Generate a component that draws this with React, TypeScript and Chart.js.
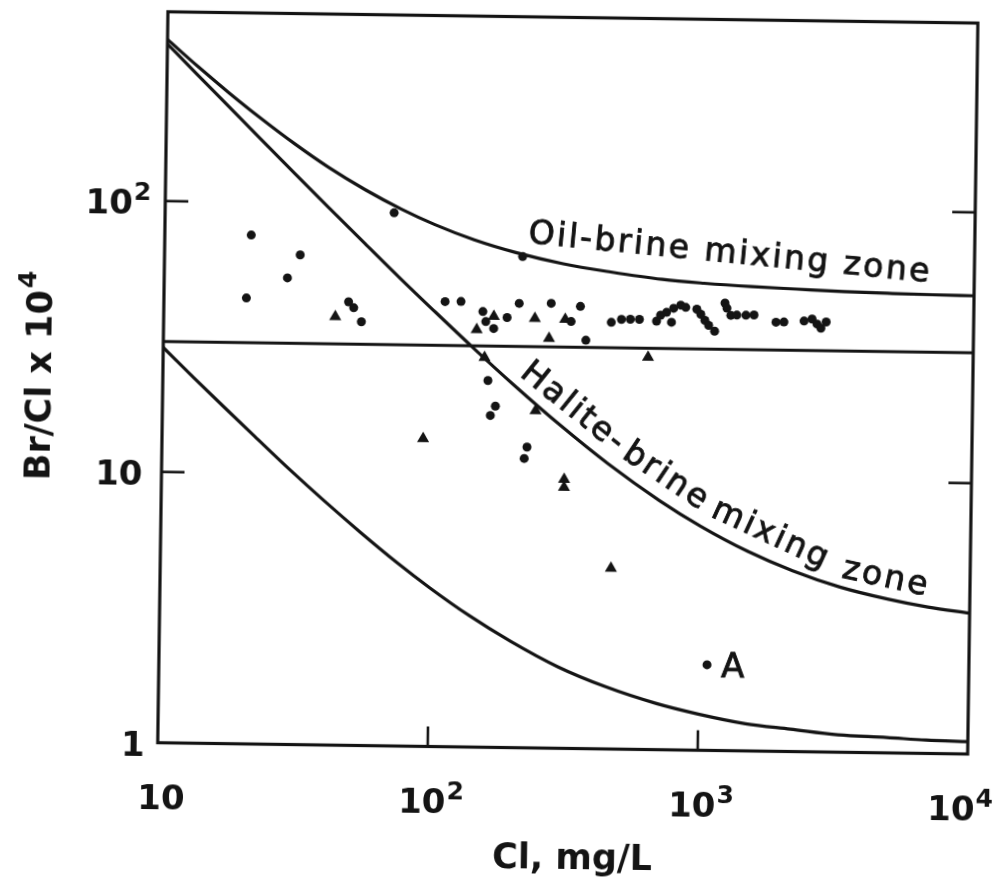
import React, { useEffect, useRef } from "react";
import { Chart, registerables } from "chart.js";

Chart.register(...registerables);

// ---------- data ----------
const clGrid = [10, 13, 17, 22, 30, 40, 55, 75, 100, 140, 200, 300, 450, 700, 1000, 1500, 2200, 3300, 5000, 7000, 10000];
const oilBrineCurve = [395, 315, 253, 207, 165, 136, 112.7, 96, 84.5, 74.6, 67.3, 61.5, 57.7, 54.5, 53.0, 51.8, 51.0, 50.2, 49.7, 49.4, 49.2];
const haliteBrineCurve = [380, 293, 225, 174.5, 128.7, 97.3, 71.6, 53.2, 40.7, 29.9, 21.8, 15.5, 11.3, 8.32, 6.71, 5.45, 4.65, 4.07, 3.69, 3.47, 3.31];
const dilutionCurve = [28.8, 22.4, 17.4, 13.7, 10.3, 8.0, 6.12, 4.77, 3.85, 3.06, 2.47, 2.0, 1.7, 1.48, 1.36, 1.26, 1.21, 1.16, 1.14, 1.12, 1.11];

const seawaterLineCl = [10, 10000];
const seawaterLineRatio = [30.3, 30.3];

const circleCl = [20.9, 31.8, 28.6, 20.2, 48.3, 50.5, 54.0, 70.5, 110, 126, 152, 156, 167, 187, 207, 212, 272, 323, 349, 367, 455, 496, 535, 578, 669, 692, 728, 773, 821, 857, 760, 942, 975, 1010, 1044, 1099, 1197, 1218, 1260, 1326, 1433, 1535, 1853, 1983, 2354, 2520, 2630, 2720, 2843, 160, 171, 164, 225, 220];
const circleRatio = [75.7, 64.3, 52.8, 44.3, 43.4, 41.3, 36.7, 93.0, 44.0, 44.1, 40.6, 37.3, 35.2, 38.7, 43.7, 65.1, 43.9, 37.7, 42.9, 32.2, 37.6, 38.6, 38.7, 38.7, 38.2, 40.2, 41.2, 42.7, 43.9, 43.1, 37.9, 42.5, 40.7, 38.7, 37.1, 35.3, 44.9, 43.0, 40.5, 40.6, 40.6, 40.7, 38.4, 38.5, 38.9, 39.6, 38.0, 36.7, 38.7, 22.6, 18.2, 16.8, 12.9, 11.7];

const triangleCl = [43.2, 167, 144.5, 237, 307, 268, 625, 155, 241, 92.7, 310, 310, 467];
const triangleRatio = [38.2, 39.0, 34.8, 38.5, 38.4, 32.6, 28.1, 27.5, 17.6, 13.7, 9.85, 9.2, 4.65];

const pointACl = [1072];
const pointARatio = [2.07];
const pointALabel = "A";

// axis ticks
const xTickValues = [10, 100, 1000, 10000];
const xTickBase = ["10", "10", "10", "10"];
const xTickExp = ["", "2", "3", "4"];
const yTickValues = [1, 10, 100];
const yTickBase = ["1", "10", "10"];
const yTickExp = ["", "", "2"];
const xInnerTicks = [100, 1000];
const yInnerTicks = [10, 100];

const xTitle = "Cl, mg/L";
const yTitleBase = "Br/Cl x 10";
const yTitleExp = "4";

// curve labels (anchored in data coordinates)
const curveLabelText = ["Oil-brine mixing zone", "Halite-", "brine", "mixing", "zone"];
const curveLabelCl = [221, 208, 502, 1078, 3323];
const curveLabelRatio = [73.3, 23.7, 11.97, 7.32, 4.43];
const curveLabelAngle = [4.8, 38, 33, 24, 11.5];

// ---------- styles ----------
const INK = "#141414";
const FONT = "'DejaVu Sans', 'Liberation Sans', Arial, sans-serif";

function pts(xs: number[], ys: number[]) {
  return xs.map((x, i) => ({ x, y: ys[i] }));
}

const decorPlugin = {
  id: "figureDecor",
  afterDatasetsDraw(chart: any) {
    const { ctx, chartArea: a, scales } = chart;
    const xs = scales.x;
    const ys = scales.y;
    ctx.save();
    ctx.strokeStyle = INK;
    ctx.fillStyle = INK;
    ctx.lineCap = "butt";

    // frame
    ctx.lineWidth = 3.2;
    ctx.strokeRect(a.left, a.top, a.right - a.left, a.bottom - a.top);

    // inner ticks
    const TICK = 23;
    ctx.lineWidth = 2.6;
    const seg = (x1: number, y1: number, x2: number, y2: number) => {
      ctx.beginPath();
      ctx.moveTo(x1, y1);
      ctx.lineTo(x2, y2);
      ctx.stroke();
    };
    yInnerTicks.forEach((v) => {
      const py = ys.getPixelForValue(v);
      seg(a.left, py, a.left + TICK, py);
      seg(a.right - TICK, py, a.right, py);
    });
    xInnerTicks.forEach((v) => {
      const px = xs.getPixelForValue(v);
      seg(px, a.bottom, px, a.bottom - 20);
    });

    const baseFont = `bold 34px ${FONT}`;
    const supFont = `bold 25px ${FONT}`;
    const capH = 34 * 0.729;
    const measurePow = (base: string, exp: string) => {
      ctx.font = baseFont;
      const wb = ctx.measureText(base).width;
      ctx.font = supFont;
      const we = exp ? ctx.measureText(exp).width + 1 : 0;
      return { wb, we, w: wb + we };
    };
    const drawPow = (base: string, exp: string, left: number, cy: number) => {
      const m = measurePow(base, exp);
      ctx.textAlign = "left";
      ctx.textBaseline = "alphabetic";
      ctx.font = baseFont;
      ctx.fillText(base, left, cy + capH / 2);
      if (exp) {
        ctx.font = supFont;
        ctx.fillText(exp, left + m.wb + 1, cy - 2);
      }
      return m.w;
    };

    // x tick labels
    xTickValues.forEach((v, i) => {
      const px = xs.getPixelForValue(v);
      const m = measurePow(xTickBase[i], xTickExp[i]);
      let left = px + 4 - m.w / 2;
      if (left + m.w > a.right + 26) left = a.right + 26 - m.w;
      drawPow(xTickBase[i], xTickExp[i], left, a.bottom + 54);
    });
    // y tick labels
    yTickValues.forEach((v, i) => {
      const py = ys.getPixelForValue(v);
      const m = measurePow(yTickBase[i], yTickExp[i]);
      const right = yTickExp[i] ? a.left - 14 : yTickBase[i].length === 1 ? a.left - 13 : a.left - 19;
      drawPow(yTickBase[i], yTickExp[i], right - m.w, py + 1);
    });

    // x title
    ctx.font = `bold 35px ${FONT}`;
    ctx.textAlign = "center";
    ctx.textBaseline = "alphabetic";
    ctx.fillText(xTitle, (a.left + a.right) / 2 + 11, a.bottom + 120);

    // y title (rotated)
    ctx.save();
    ctx.translate(37, (a.top + a.bottom) / 2);
    ctx.rotate(-Math.PI / 2);
    ctx.font = `bold 35px ${FONT}`;
    const wb = ctx.measureText(yTitleBase).width;
    ctx.font = supFont;
    const we = ctx.measureText(yTitleExp).width;
    const start = -(wb + we + 2) / 2;
    ctx.textAlign = "left";
    ctx.font = `bold 35px ${FONT}`;
    ctx.fillText(yTitleBase, start, (35 * 0.729) / 2);
    ctx.font = supFont;
    ctx.fillText(yTitleExp, start + wb + 2, -3);
    ctx.restore();

    // curve labels
    ctx.font = `33px ${FONT}`;
    ctx.lineWidth = 0.9;
    (ctx as any).letterSpacing = "2.5px";
    curveLabelText.forEach((t, i) => {
      const px = xs.getPixelForValue(curveLabelCl[i]);
      const py = ys.getPixelForValue(curveLabelRatio[i]);
      ctx.save();
      ctx.translate(px, py);
      ctx.rotate((curveLabelAngle[i] * Math.PI) / 180);
      ctx.textAlign = "left";
      ctx.textBaseline = "alphabetic";
      ctx.fillText(t, 0, 0);
      ctx.strokeText(t, 0, 0);
      ctx.restore();
    });
    (ctx as any).letterSpacing = "0px";

    // point A label
    ctx.font = `34px ${FONT}`;
    ctx.textAlign = "left";
    const ax = xs.getPixelForValue(pointACl[0]);
    const ay = ys.getPixelForValue(pointARatio[0]);
    ctx.fillText(pointALabel, ax + 14, ay + 12);
    ctx.strokeText(pointALabel, ax + 14, ay + 12);

    ctx.restore();
  },
};

export default function App() {
  const ref = useRef<HTMLCanvasElement | null>(null);

  useEffect(() => {
    if (!ref.current) return;
    const lineDs = (label: string, xs: number[], ys: number[]) => ({
      label,
      data: pts(xs, ys),
      showLine: true,
      borderColor: INK,
      borderWidth: 3.2,
      pointRadius: 0,
      cubicInterpolationMode: "monotone" as const,
      fill: false,
    });
    const chart = new Chart(ref.current, {
      type: "scatter",
      data: {
        datasets: [
          lineDs("Oil-brine mixing curve", clGrid, oilBrineCurve),
          lineDs("Halite-brine mixing curve", clGrid, haliteBrineCurve),
          lineDs("Dilution curve", clGrid, dilutionCurve),
          lineDs("Br/Cl reference line", seawaterLineCl, seawaterLineRatio),
          {
            label: "Samples (dots)",
            data: pts(circleCl, circleRatio),
            pointStyle: "circle",
            pointRadius: 4.5,
            backgroundColor: INK,
            borderColor: INK,
            borderWidth: 0,
            showLine: false,
          },
          {
            label: "Samples (triangles)",
            data: pts(triangleCl, triangleRatio),
            pointStyle: "triangle",
            pointRadius: 7,
            backgroundColor: INK,
            borderColor: INK,
            borderWidth: 0,
            showLine: false,
          },
          {
            label: "Sample A",
            data: pts(pointACl, pointARatio),
            pointStyle: "circle",
            pointRadius: 4.5,
            backgroundColor: INK,
            borderColor: INK,
            borderWidth: 0,
            showLine: false,
          },
        ],
      },
      options: {
        responsive: false,
        animation: false,
        events: [],
        layout: { padding: { left: 162, right: 34, top: 16.5, bottom: 131.5 } },
        plugins: { legend: { display: false }, tooltip: { enabled: false } },
        scales: {
          x: { type: "logarithmic", min: 10, max: 10000, display: false },
          y: { type: "logarithmic", min: 1, max: 500, display: false },
        },
      },
      plugins: [decorPlugin],
    } as any);
    return () => chart.destroy();
  }, []);

  return (
    <div style={{ position: "absolute", left: 0, top: 0, width: 1006, height: 879, overflow: "hidden", background: "#fff" }}>
      <div style={{ width: 1006, height: 879, transform: "rotate(0.8deg)", transformOrigin: "503px 439.5px" }}>
        <canvas ref={ref} width={1006} height={879} style={{ display: "block" }} />
      </div>
    </div>
  );
}
